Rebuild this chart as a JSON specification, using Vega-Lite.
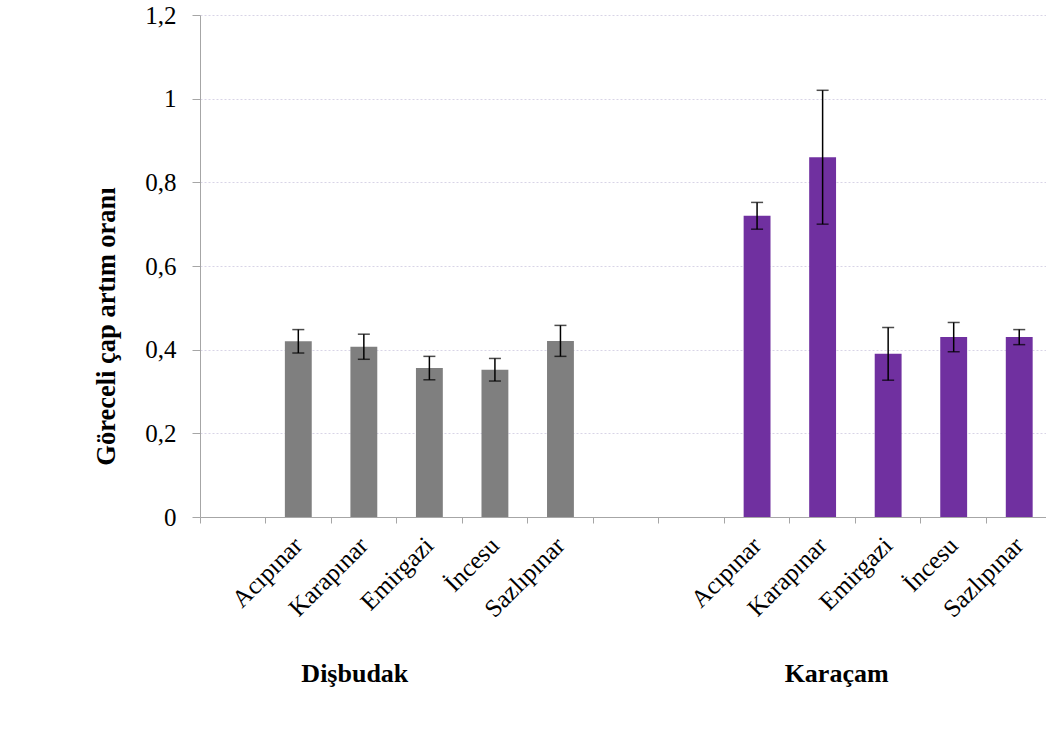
{
  "$schema": "https://vega.github.io/schema/vega-lite/v6.json",
  "width": 852,
  "height": 502,
  "autosize": "none",
  "padding": {"left": 200, "top": 15, "right": 0, "bottom": 221},
  "background": "white",
  "config": {
    "view": {"stroke": null},
    "font": "Liberation Serif",
    "axis": {"labelFont": "Liberation Serif", "titleFont": "Liberation Serif", "labelColor": "black", "titleColor": "black", "domainColor": "#a6a6a6", "tickColor": "#a6a6a6"}
  },
  "datasets": {
    "bars": [
      {"species": "Dişbudak", "site": "Acıpınar", "value": 0.42, "err": 0.028},
      {"species": "Dişbudak", "site": "Karapınar", "value": 0.407, "err": 0.03},
      {"species": "Dişbudak", "site": "Emirgazi", "value": 0.356, "err": 0.028},
      {"species": "Dişbudak", "site": "İncesu", "value": 0.352, "err": 0.027},
      {"species": "Dişbudak", "site": "Sazlıpınar", "value": 0.421, "err": 0.037},
      {"species": "Karaçam", "site": "Acıpınar", "value": 0.72, "err": 0.032},
      {"species": "Karaçam", "site": "Karapınar", "value": 0.86, "err": 0.16},
      {"species": "Karaçam", "site": "Emirgazi", "value": 0.39, "err": 0.063},
      {"species": "Karaçam", "site": "İncesu", "value": 0.43, "err": 0.035},
      {"species": "Karaçam", "site": "Sazlıpınar", "value": 0.43, "err": 0.018}
    ]
  },
  "layer": [
    {
      "data": {"name": "bars"},
      "transform": [{"calculate": "(datum.species == 'Dişbudak' ? 'D' : 'K') + '|' + datum.site", "as": "key"}],
      "mark": {"type": "bar", "width": {"band": 0.41}},
      "encoding": {
        "x": {
          "field": "key", "type": "nominal",
          "scale": {"domain": ["e1", "D|Acıpınar", "D|Karapınar", "D|Emirgazi", "D|İncesu", "D|Sazlıpınar", "e2", "e3", "K|Acıpınar", "K|Karapınar", "K|Emirgazi", "K|İncesu", "K|Sazlıpınar"], "paddingInner": 0, "paddingOuter": 0},
          "axis": {"title": null, "bandPosition": 0, "tickSize": 6, "labelAngle": -45, "labelAlign": "right", "labelBaseline": "middle", "labelFontSize": 25, "labelPadding": 18, "labelExpr": "indexof(datum.value, '|') >= 0 ? split(datum.value, '|')[1] : ''", "grid": false}
        },
        "y": {
          "field": "value", "type": "quantitative",
          "scale": {"domain": [0, 1.2], "nice": false},
          "axis": {"title": "Göreceli çap artım oranı", "values": [0, 0.2, 0.4, 0.6, 0.8, 1, 1.2], "labelExpr": "replace(toString(round(datum.value * 10) / 10), '.', ',')", "labelFontSize": 25, "tickSize": 8, "labelPadding": 16, "grid": true, "gridColor": "#d8d4e6", "gridDash": [2, 2], "titleFontSize": 26.5, "titleFontWeight": "bold", "titleAngle": 270, "titleX": -94, "titleY": 311, "titleAlign": "center", "titleBaseline": "middle"}
        },
        "color": {"field": "species", "type": "nominal", "scale": {"domain": ["Dişbudak", "Karaçam"], "range": ["#7f7f7f", "#7030a0"]}, "legend": null}
      }
    },
    {
      "data": {"name": "bars"},
      "transform": [{"calculate": "(datum.species == 'Dişbudak' ? 'D' : 'K') + '|' + datum.site", "as": "key"}],
      "mark": {"type": "errorbar", "color": "black", "thickness": 1.5, "ticks": {"size": 12, "thickness": 1.5, "color": "black"}},
      "encoding": {
        "x": {"field": "key", "type": "nominal"},
        "y": {"field": "value", "type": "quantitative", "title": "Göreceli çap artım oranı"},
        "yError": {"field": "err"}
      }
    },
    {
      "data": {"values": [{"group": "Dişbudak", "key": "D|Karapınar"}]},
      "mark": {"type": "text", "font": "Liberation Serif", "fontSize": 26, "fontWeight": "bold", "color": "black", "dx": -9, "dy": 157, "baseline": "middle", "align": "center"},
      "encoding": {"x": {"field": "key", "type": "nominal"}, "y": {"datum": 0, "type": "quantitative"}, "text": {"field": "group"}}
    },
    {
      "data": {"values": [{"group": "Karaçam", "key": "K|Karapınar"}]},
      "mark": {"type": "text", "font": "Liberation Serif", "fontSize": 26, "fontWeight": "bold", "color": "black", "dx": 14, "dy": 157, "baseline": "middle", "align": "center"},
      "encoding": {"x": {"field": "key", "type": "nominal"}, "y": {"datum": 0, "type": "quantitative"}, "text": {"field": "group"}}
    }
  ]
}
